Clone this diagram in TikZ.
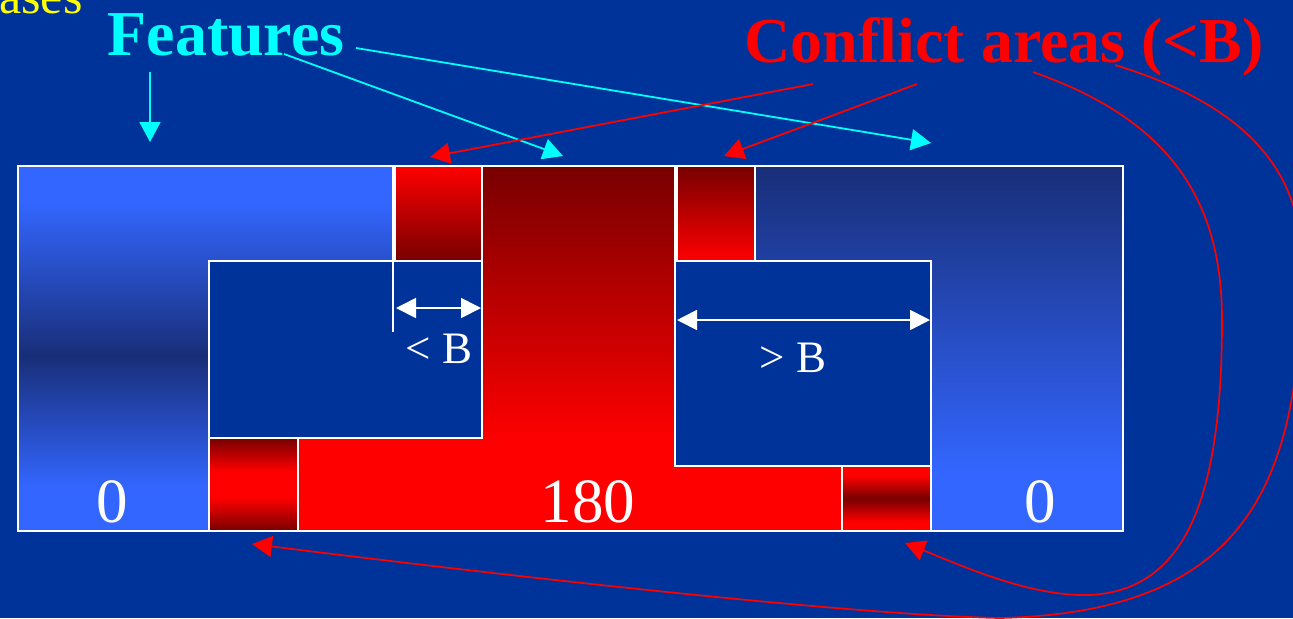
\documentclass[tikz,border=0pt]{standalone}
\usepackage{fontspec}
\setmainfont{Liberation Serif}
\usetikzlibrary{arrows.meta,positioning}
\definecolor{bgblue}{RGB}{0,51,153}
\definecolor{liteblue}{RGB}{51,102,255}
\definecolor{navyblue}{RGB}{24,46,120}
\definecolor{hotred}{RGB}{255,0,0}
\definecolor{deepred}{RGB}{119,0,0}
\definecolor{featcyan}{RGB}{0,255,255}
\definecolor{phaseyellow}{RGB}{255,255,0}
\pgfdeclareverticalshading{leftzero}{100bp}{color(0bp)=(liteblue); color(31bp)=(liteblue);
  color(49bp)=(navyblue); color(70bp)=(liteblue); color(100bp)=(liteblue)}
\pgfdeclareverticalshading{rightzero}{100bp}{color(0bp)=(liteblue); color(33bp)=(liteblue);
  color(75bp)=(navyblue); color(100bp)=(navyblue)}
\pgfdeclareverticalshading{midpi}{100bp}{color(0bp)=(hotred); color(37bp)=(hotred);
  color(75bp)=(deepred); color(100bp)=(deepred)}
\pgfdeclareverticalshading{redband}{100bp}{color(0bp)=(deepred); color(25bp)=(deepred);
  color(43bp)=(hotred); color(57bp)=(hotred); color(75bp)=(deepred); color(100bp)=(deepred)}
\pgfdeclareverticalshading{darkband}{100bp}{color(0bp)=(hotred); color(32bp)=(hotred);
  color(50bp)=(deepred); color(68bp)=(hotred); color(100bp)=(hotred)}

\begin{document}
\begin{tikzpicture}[x=0.5pt,y=-0.5pt,
  every node/.style={inner sep=0pt},
  region/.style={draw=white,line width=0.9pt},
  ptr/.style={-{Triangle[length=10pt,width=10.5pt]},line width=0.9pt},
  featarr/.style={ptr,color=featcyan},
  confarr/.style={ptr,color=hotred},
  looparr/.style={ptr,color=hotred,line width=0.85pt},
  dimarr/.style={{Triangle[length=10pt,width=10pt]}-{Triangle[length=10pt,width=10pt]},white,line width=0.9pt},
  num/.style={font=\fontsize{31.5}{36}\selectfont,text=white,anchor=base},
  blbl/.style={font=\fontsize{22.5}{26}\selectfont,text=white,anchor=base},
  headlbl/.style={font=\bfseries\fontsize{32}{36}\selectfont,anchor=base}]

\useasboundingbox (0,0) rectangle (1293,618);
\fill[bgblue] (0,0) rectangle (1293,618);

% --- 0-phase regions
\shade[region,shading=leftzero] (18,166) -- (393,166) -- (393,261) -- (209,261)
  -- (209,531) -- (18,531) -- cycle;
\shade[region,shading=rightzero] (755,166) -- (1123,166) -- (1123,531) -- (931,531)
  -- (931,261) -- (755,261) -- cycle;
% --- 180-phase region
\shade[region,shading=midpi] (482,166) -- (675,166) -- (675,466) -- (842,466)
  -- (842,531) -- (298,531) -- (298,438) -- (482,438) -- cycle;
% --- openings
\draw[region] (209,261) rectangle (482,438);
\draw[region] (675,261) rectangle (931,466);
% --- conflict squares
\shade[region,top color=hotred,bottom color=deepred] (395,166) rectangle (482,261);
\shade[region,top color=deepred,bottom color=hotred] (677,166) rectangle (755,261);
\shade[region,shading=redband] (209,438) rectangle (298,531);
\shade[region,shading=darkband] (842,466) rectangle (931,531);

% --- widths
\draw[white,line width=0.9pt] (393,261) -- (393,332);
\coordinate (nl) at (396,308);
\coordinate (nr) at (481,308);
\coordinate (wl) at (677,320);
\coordinate (wr) at (930,320);
\draw[dimarr] (nl) -- (nr);
\draw[dimarr] (wl) -- (wr);
\node[blbl] (lessB) at (439,363) {< B};
\node[blbl] (moreB) at (793,372) {> B};

% --- phases
\node[num] (zeroL) at (112,522) {0};
\node[num] (halfturn) at (588,522) {180};
\node[num] (zeroR) at (1040,522) {0};

% --- headings
\node[anchor=base east,font=\fontsize{25}{30}\selectfont,text=phaseyellow] (phases) at (83,13) {ases};
\node[headlbl,text=featcyan] (feat) at (226,55) {Features};
\node[headlbl,text=hotred] (conf) at (1004,62) {Conflict areas (<B)};

% --- feature pointers
\coordinate (f1) at (150,72);   \coordinate (ft1) at (150,142);
\coordinate (f2) at (284,54);   \coordinate (ft2) at (563,156);
\coordinate (f3) at (356,48);   \coordinate (ft3) at (931,143);
\draw[featarr] (f1) -- (ft1);
\draw[featarr] (f2) -- (ft2);
\draw[featarr] (f3) -- (ft3);

% --- conflict pointers
\coordinate (c1) at (813,84);   \coordinate (ct1) at (430,157);
\coordinate (c2) at (917,84);   \coordinate (ct2) at (724,156);
\coordinate (c3) at (1033,72);  \coordinate (ct3) at (905,543);
\coordinate (c4) at (1115,65);  \coordinate (ct4) at (252,544);
\draw[confarr] (c1) -- (ct1);
\draw[confarr] (c2) -- (ct2);
\draw[looparr] (c3) .. controls (1170,120) and (1222,200) .. (1222,320)
  .. controls (1222,500) and (1185,590) .. (1090,595)
  .. controls (1030,597) and (960,565) .. (ct3);
\draw[looparr] (c4) .. controls (1245,105) and (1304,170) .. (1302,270)
  .. controls (1300,480) and (1250,612) .. (1000,618)
  .. controls (850,615) and (500,575) .. (ct4);
\end{tikzpicture}
\end{document}
